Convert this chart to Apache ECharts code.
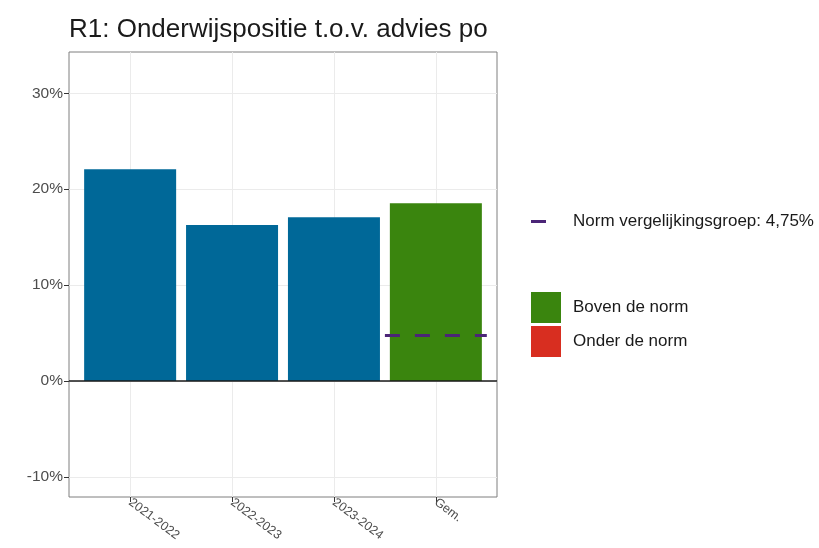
<!DOCTYPE html>
<html>
<head>
<meta charset="utf-8">
<script src="https://cdn.jsdelivr.net/npm/echarts@6/dist/echarts.min.js"></script>
<style>
  html, body { margin: 0; background: #fff; }
  #chart { width: 819px; height: 548px; }
</style>
</head>
<body>
<div id="chart"></div>
<script>
/* ── Data ── */
const CATEGORIES   = ['2021-2022', '2022-2023', '2023-2024', 'Gem.'];
const X_POS        = [1, 2, 3, 4];
const YEAR_VALUES  = [22.08, 16.25, 17.08];   // schooljaren (blauw)
const AVG_VALUE    = 18.54;                   // Gem.
const NORM         = 4.75;                    // norm vergelijkingsgroep
const Y_TICKS      = [-10, 0, 10, 20, 30];

/* ── Colours ── */
const BLUE   = '#006898';
const GREEN  = '#3A850E';
const RED    = '#D82E20';
const PURPLE = '#4B2577';
const GRID   = '#ebebeb';
const FONT   = '"Liberation Sans", Arial, sans-serif';

const NORM_LABEL = 'Norm vergelijkingsgroep: 4,75%';

const chart = echarts.init(document.getElementById('chart'), null, { renderer: 'canvas' });

const avgPos = X_POS[CATEGORIES.indexOf('Gem.')];
const aboveNorm = AVG_VALUE >= NORM;

chart.setOption({
    animation: false,
    backgroundColor: '#fff',
    textStyle: { fontFamily: FONT },
    title: {
        text: 'R1: Onderwijspositie t.o.v. advies po',
        left: 69,
        top: 17,
        padding: 0,
        textStyle: { fontSize: 26, fontWeight: 'normal', color: '#1a1a1a', fontFamily: FONT },
    },
    legend: [
        {
            data: [NORM_LABEL],
            left: 531,
            top: 213,
            padding: 0,
            icon: 'rect',
            itemWidth: 15,
            itemHeight: 3,
            selectedMode: false,
            textStyle: { fontSize: 17, color: '#1a1a1a', padding: [0, 0, 0, 22] },
        },
        {
            data: ['Boven de norm', 'Onder de norm'],
            orient: 'vertical',
            left: 531,
            top: 292,
            padding: 0,
            icon: 'rect',
            itemWidth: 30,
            itemHeight: 31,
            itemGap: 3,
            selectedMode: false,
            textStyle: { fontSize: 17, color: '#1a1a1a', padding: [0, 0, 0, 7] },
        },
    ],
    grid: {
        left: 69, top: 52, width: 428, height: 445,
        show: true, borderColor: '#7f7f7f', borderWidth: 1, backgroundColor: '#fff',
    },
    xAxis: {
        type: 'value',
        min: 0.4,
        max: 4.6,
        axisLine: { show: false, onZero: false },
        axisTick: { show: true, length: 5, customValues: X_POS, lineStyle: { color: '#333' } },
        axisLabel: {
            customValues: X_POS,
            formatter: (v) => CATEGORIES[X_POS.indexOf(v)] || '',
            rotate: -37,
            fontSize: 12.5,
            color: '#4d4d4d',
            margin: 4,
        },
        splitLine: { show: true, lineStyle: { color: GRID, width: 1 } },
    },
    yAxis: {
        type: 'value',
        min: -12.1,
        max: 34.3,
        axisLine: { show: false },
        axisTick: { show: true, length: 5, customValues: Y_TICKS, lineStyle: { color: '#333' } },
        axisLabel: {
            customValues: Y_TICKS,
            formatter: (v) => v + '%',
            fontSize: 15.5,
            color: '#4d4d4d',
            margin: 6,
        },
        splitLine: { show: true, lineStyle: { color: GRID, width: 1 } },
    },
    series: [
        {
            name: 'Schooljaren',
            type: 'bar',
            barWidth: 92,
            barGap: '-100%',
            itemStyle: { color: BLUE },
            data: YEAR_VALUES.map((v, i) => [X_POS[i], v]),
            markLine: {
                silent: true,
                symbol: 'none',
                label: { show: false },
                lineStyle: { color: '#1a1a1a', width: 1.5, type: 'solid' },
                data: [{ yAxis: 0 }],
            },
        },
        {
            name: 'Boven de norm',
            type: 'bar',
            barWidth: 92,
            barGap: '-100%',
            itemStyle: { color: GREEN },
            data: aboveNorm ? [[avgPos, AVG_VALUE]] : [],
        },
        {
            name: 'Onder de norm',
            type: 'bar',
            barWidth: 92,
            barGap: '-100%',
            itemStyle: { color: RED },
            data: aboveNorm ? [] : [[avgPos, AVG_VALUE]],
        },
        {
            name: NORM_LABEL,
            type: 'line',
            symbol: 'none',
            z: 5,
            itemStyle: { color: PURPLE },
            lineStyle: { color: PURPLE, width: 3, type: [15, 15] },
            data: [[avgPos - 0.5, NORM], [avgPos + 0.5, NORM]],
        },
    ],
});
</script>
</body>
</html>
